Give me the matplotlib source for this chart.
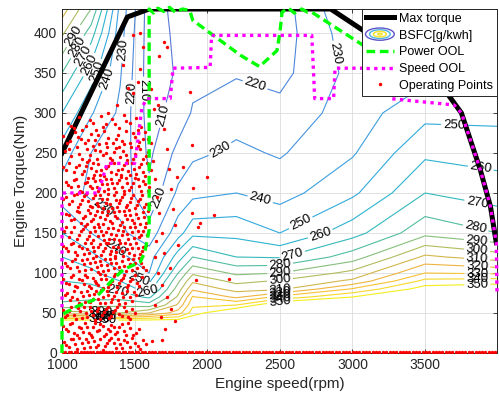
import numpy as np
import matplotlib as mpl
mpl.use('Agg')
import matplotlib.pyplot as plt
from matplotlib.legend_handler import HandlerBase
from matplotlib.patches import Ellipse
from matplotlib.lines import Line2D

plt.rcParams['font.family'] = ['Liberation Sans', 'DejaVu Sans']

# BSFC map [g/kWh], rows = torque, cols = speed
map_speed = [1000, 1200, 1400, 1600, 1800, 1900, 2200, 2500, 3000, 3500, 4000]
map_torque = [0, 40, 50, 60, 70, 80, 90, 100, 120, 150, 200, 250, 300, 350, 400, 430]
bsfc = [
    [400, 400, 400, 400, 400, 400, 400, 400, 400, 400, 400],
    [356, 356, 356, 356, 356, 360, 390, 400, 400, 400, 400],
    [305, 302, 300, 310, 325, 345, 365, 380, 395, 400, 400],
    [282, 287, 288, 285, 312, 338, 340, 362, 375, 390, 392],
    [277, 276, 276, 268, 302, 331, 318, 333, 350, 375, 378],
    [274, 273, 267, 255, 295, 318, 306, 308, 331, 355, 358],
    [270, 268, 260, 248, 288, 308, 297, 301, 312, 343, 345],
    [267, 263, 251, 240, 280, 298, 288, 290, 303, 330, 328],
    [260, 253, 242, 235, 265, 280, 270, 269, 285, 312, 305],
    [250, 240, 232, 224, 246, 257, 257, 250, 266, 287, 280],
    [235, 228, 226, 212, 232, 237, 240, 236, 248, 270, 265],
    [245, 230, 227, 208, 223, 228, 232, 229, 239, 258, 256],
    [260, 241, 228, 206, 214, 221, 226, 223, 235, 247, 247],
    [280, 255, 231, 205, 211, 217, 219, 217, 233, 237, 240],
    [302, 275, 234, 205, 212, 214, 214, 215, 236, 233, 236],
    [315, 290, 237, 205, 213, 214, 214, 215, 240, 232, 235],
]
bsfc_levels = [210, 220, 230, 240, 250, 260, 270, 280, 290, 300, 310, 320, 330, 340, 350]

max_speed = [1000, 1450, 1600, 2850, 3100, 3400, 3650, 3750, 3880, 3950, 3990]
max_torque = [250, 420, 430, 430, 400, 365, 325, 300, 229, 183, 138]

power_speed = [1000, 1000, 1100, 1215, 1330, 1420, 1540, 1570, 1600, 1600, 1630, 1660, 1700, 1740,
               1780, 1830, 1880, 1900, 2230, 2360, 2480, 2500, 2515, 2560, 2600, 2650, 2690,
               2720, 2985, 3200]
power_torque = [0, 48, 58, 66, 88, 104, 114, 126, 154, 430, 425, 431, 427, 432, 426, 430, 428,
                416, 372, 358, 378, 400, 426, 431, 425, 430, 426, 426, 395, 370]

speed_speed = [1000, 1000, 1250, 1310, 1500, 1520, 1550, 1585, 1745, 1765, 2020, 2030, 2720,
               2740, 2870, 2880, 3250, 3260, 3700, 3750, 3880, 3950, 3990, 3995]
speed_torque = [57, 200, 200, 237, 237, 262, 307, 318, 318, 356, 357, 397, 397, 318, 318, 356,
                356, 318, 310, 300, 229, 183, 138, 75]

op_points = [
    (1040, 288), (1085, 281), (1120, 295), (1165, 284), (1190, 291), (1235, 279), (1270, 296),
    (1300, 286), (1345, 292), (1390, 281), (1425, 298), (1470, 287), (1510, 294), (1545, 283),
    (1010, 271), (1055, 265), (1090, 276), (1130, 268), (1160, 262), (1200, 274), (1225, 266),
    (1255, 261), (1290, 277), (1320, 269), (1350, 263), (1385, 273), (1410, 265), (1440, 278),
    (1465, 262), (1500, 270), (1530, 264), (1570, 276), (1595, 268),
    (1020, 252), (1065, 246), (1100, 257), (1140, 243), (1170, 255), (1195, 248), (1215, 259),
    (1240, 242), (1265, 253), (1285, 247), (1310, 258), (1330, 244), (1355, 251), (1375, 256),
    (1400, 245), (1420, 253), (1450, 241), (1475, 258), (1505, 249), (1540, 255), (1560, 243),
    (1590, 251),
    (1005, 232), (1045, 238), (1080, 226), (1115, 235), (1150, 228), (1175, 239), (1200, 231),
    (1220, 223), (1245, 236), (1270, 229), (1290, 221), (1315, 234), (1340, 226), (1360, 238),
    (1385, 229), (1405, 222), (1430, 235), (1455, 227), (1480, 237), (1510, 224), (1530, 232),
    (1555, 226), (1585, 238), (1610, 229),
    (1025, 214), (1060, 207), (1095, 218), (1125, 203), (1155, 212), (1180, 219), (1205, 206),
    (1230, 215), (1250, 202), (1275, 211), (1300, 218), (1320, 205), (1345, 213), (1370, 201),
    (1390, 216), (1415, 208), (1440, 219), (1460, 204), (1490, 212), (1520, 217), (1545, 203),
    (1570, 211), (1600, 207),
    (1010, 193), (1050, 186), (1085, 197), (1110, 182), (1140, 191), (1165, 199), (1190, 184),
    (1215, 194), (1240, 188), (1260, 198), (1285, 181), (1310, 192), (1330, 186), (1355, 197),
    (1380, 183), (1400, 191), (1425, 199), (1450, 185), (1475, 194), (1500, 181), (1525, 190),
    (1550, 197), (1580, 186),
    (1030, 174), (1065, 166), (1100, 178), (1130, 163), (1155, 171), (1180, 179), (1200, 165),
    (1225, 173), (1250, 161), (1275, 176), (1295, 168), (1320, 178), (1345, 162), (1365, 171),
    (1390, 177), (1410, 164), (1435, 172), (1460, 179), (1485, 166), (1510, 174), (1540, 161),
    (1565, 170), (1595, 177),
    (1015, 152), (1050, 145), (1080, 157), (1115, 148), (1145, 155), (1170, 142), (1195, 151),
    (1220, 158), (1245, 146), (1270, 153), (1290, 141), (1315, 156), (1340, 149), (1360, 143),
    (1385, 154), (1410, 147), (1430, 158), (1455, 142), (1480, 151), (1505, 157), (1530, 145),
    (1555, 153), (1585, 148),
    (1005, 134), (1040, 127), (1075, 138), (1105, 122), (1135, 131), (1160, 137), (1185, 125),
    (1210, 133), (1235, 121), (1260, 136), (1280, 128), (1305, 138), (1330, 124), (1350, 132),
    (1375, 126), (1400, 137), (1420, 121), (1445, 130), (1470, 136), (1495, 123), (1520, 131),
    (1550, 127), (1575, 135),
    (1020, 113), (1055, 106), (1090, 117), (1120, 102), (1150, 111), (1175, 118), (1200, 105),
    (1225, 114), (1250, 101), (1270, 110), (1295, 117), (1320, 104), (1340, 112), (1365, 119),
    (1390, 107), (1415, 115), (1440, 102), (1465, 111), (1490, 118), (1515, 106), (1545, 113),
    (1575, 104),
    (1010, 93), (1045, 86), (1075, 97), (1105, 82), (1135, 91), (1160, 98), (1185, 84),
    (1210, 94), (1235, 88), (1260, 99), (1280, 81), (1305, 92), (1330, 86), (1355, 96),
    (1380, 83), (1405, 91), (1430, 98), (1455, 85), (1485, 93), (1515, 88), (1550, 95),
    (1020, 73), (1055, 66), (1085, 77), (1115, 62), (1145, 71), (1170, 78), (1195, 64),
    (1220, 74), (1245, 68), (1270, 79), (1295, 63), (1320, 72), (1345, 67), (1370, 76),
    (1395, 61), (1420, 70), (1450, 77), (1480, 65), (1510, 72),
    (1005, 54), (1035, 47), (1065, 58), (1095, 43), (1125, 52), (1150, 57), (1175, 45),
    (1200, 53), (1225, 41), (1250, 56), (1275, 48), (1300, 55), (1325, 44), (1350, 51),
    (1380, 58), (1410, 46), (1440, 53), (1470, 42), (1500, 50),
    (1010, 34), (1040, 27), (1070, 38), (1100, 22), (1130, 31), (1160, 37), (1185, 25),
    (1210, 33), (1240, 28), (1265, 36), (1290, 21), (1315, 30), (1340, 35), (1365, 24),
    (1395, 32), (1425, 27), (1455, 37), (1490, 23), (1530, 30),
    (1015, 14), (1045, 8), (1075, 17), (1105, 5), (1135, 12), (1165, 18), (1190, 7),
    (1220, 15), (1250, 10), (1280, 4), (1310, 13), (1340, 19), (1370, 6), (1400, 11),
    (1430, 16), (1465, 8), (1500, 13), (1540, 5), (1580, 11), (1620, 15),
    (1060, 284), (1140, 279), (1215, 288), (1285, 283), (1365, 286), (1440, 290), (1520, 279),
    (1035, 262), (1110, 270), (1180, 266), (1245, 272), (1305, 263), (1370, 268), (1430, 261),
    (1490, 275), (1555, 267),
    (1045, 255), (1120, 249), (1185, 241), (1230, 254), (1300, 250), (1345, 241), (1395, 257),
    (1440, 247), (1490, 243), (1525, 259), (1575, 246),
    (1030, 229), (1095, 232), (1135, 224), (1165, 234), (1210, 238), (1235, 227), (1260, 222),
    (1300, 231), (1330, 237), (1370, 224), (1415, 230), (1445, 238), (1470, 222), (1495, 230),
    (1545, 236), (1570, 221),
    (1040, 210), (1080, 216), (1110, 209), (1140, 201), (1170, 214), (1195, 209), (1215, 219),
    (1240, 207), (1265, 216), (1290, 203), (1310, 211), (1335, 217), (1355, 206), (1380, 212),
    (1405, 220), (1430, 203), (1450, 213), (1475, 207), (1505, 219), (1530, 209), (1560, 215),
    (1590, 202),
    (1030, 195), (1070, 190), (1100, 199), (1125, 186), (1150, 196), (1180, 190), (1205, 182),
    (1225, 197), (1250, 184), (1275, 193), (1300, 187), (1320, 199), (1345, 181), (1370, 191),
    (1390, 187), (1415, 195), (1440, 182), (1465, 189), (1490, 198), (1515, 185), (1540, 192),
    (1565, 183),
    (1045, 172), (1080, 168), (1115, 176), (1145, 169), (1170, 161), (1190, 175), (1215, 167),
    (1240, 178), (1265, 170), (1285, 161), (1310, 172), (1330, 165), (1355, 176), (1380, 169),
    (1400, 160), (1425, 178), (1450, 167), (1470, 173), (1495, 162), (1525, 169), (1555, 176),
    (1580, 163),
    (1030, 158), (1065, 151), (1100, 143), (1130, 152), (1160, 159), (1185, 146), (1210, 141),
    (1230, 152), (1255, 158), (1280, 147), (1305, 151), (1325, 142), (1350, 156), (1375, 148),
    (1395, 141), (1420, 152), (1445, 149), (1470, 157), (1495, 144), (1520, 152), (1545, 147),
    (1570, 158),
    (1025, 131), (1060, 136), (1090, 126), (1120, 134), (1150, 124), (1175, 130), (1200, 138),
    (1220, 127), (1245, 133), (1270, 122), (1295, 131), (1320, 137), (1340, 128), (1365, 121),
    (1385, 133), (1410, 128), (1435, 137), (1460, 125), (1485, 131), (1510, 138), (1535, 124),
    (1560, 132),
    (1035, 109), (1070, 115), (1105, 108), (1135, 116), (1160, 104), (1190, 112), (1215, 119),
    (1240, 107), (1260, 115), (1285, 103), (1310, 110), (1330, 118), (1355, 106), (1375, 113),
    (1400, 102), (1430, 109), (1455, 117), (1480, 104), (1505, 112), (1530, 119), (1560, 108),
    (1025, 88), (1060, 95), (1090, 84), (1120, 92), (1150, 86), (1175, 95), (1200, 81),
    (1225, 90), (1250, 85), (1270, 93), (1295, 98), (1320, 82), (1345, 90), (1365, 99),
    (1395, 87), (1420, 94), (1445, 82), (1470, 90), (1500, 97), (1530, 84),
    (1035, 75), (1070, 70), (1100, 68), (1130, 76), (1160, 64), (1185, 72), (1210, 67),
    (1235, 78), (1260, 63), (1285, 70), (1310, 77), (1335, 64), (1360, 71), (1385, 66),
    (1410, 75), (1435, 63), (1465, 70), (1495, 76),
    (1020, 45), (1050, 52), (1080, 48), (1110, 56), (1140, 44), (1165, 50), (1190, 58),
    (1215, 47), (1240, 52), (1265, 43), (1290, 51), (1315, 57), (1340, 46), (1365, 54),
    (1395, 49), (1425, 57), (1455, 45), (1485, 55),
    (1025, 30), (1055, 36), (1085, 25), (1115, 33), (1145, 26), (1175, 32), (1200, 22),
    (1225, 38), (1255, 29), (1280, 34), (1305, 24), (1330, 28), (1355, 33), (1380, 26),
    (1410, 36), (1440, 22), (1470, 31), (1510, 25),
    (1030, 10), (1060, 18), (1090, 11), (1120, 19), (1150, 6), (1180, 14), (1205, 20),
    (1235, 7), (1265, 17), (1295, 9), (1325, 16), (1355, 12), (1385, 18), (1415, 6),
    (1450, 14), (1485, 19), (1520, 9), (1560, 16),
    (1540, 400), (1560, 383), (1490, 398), (1700, 389), (1720, 383), (1665, 371), (1880, 326),
    (1525, 339), (1455, 331), (1490, 325), (1540, 355), (1420, 360), (1380, 310), (1320, 300),
    (1610, 262), (1625, 240), (1640, 218), (1655, 195), (1670, 175), (1690, 150), (1700, 280),
    (1720, 255), (1735, 230), (1750, 205), (1765, 180), (1780, 160), (1800, 135), (1835, 233),
    (1793, 220), (1900, 206), (1895, 260), (1935, 158), (2000, 220), (2045, 172), (1895, 175),
    (1950, 162), (1745, 106), (1925, 91), (1690, 16), (1640, 120), (1660, 100), (1690, 85),
    (1720, 70), (1750, 55), (1780, 40), (1650, 140), (1700, 125), (1640, 60), (1680, 45),
    (2150, 92), (1630, 305), (1615, 330), (1660, 310), (1710, 30),
]

idle_speed = [1003, 1022, 1046, 1061, 1088, 1104, 1131, 1149, 1170, 1196, 1213, 1238, 1259, 1284,
              1301, 1327, 1345, 1372, 1390, 1418, 1433, 1460, 1482, 1507, 1526, 1551, 1573, 1598,
              1622, 1641, 1668, 1690, 1712, 1737, 1755, 1783, 1806, 1829, 1848, 1876, 1897, 1921,
              1944, 1965, 1992, 2014, 2038, 2060, 2083, 2107, 2126, 2153, 2174, 2198, 2221, 2243,
              2268, 2287, 2312, 2336, 2355, 2381, 2403, 2426, 2449, 2471, 2496, 2518, 2542, 2561,
              2587, 2610, 2632, 2657, 2678, 2703, 2724, 2749, 2771, 2794, 2816, 2841, 2862, 2887,
              2908, 2932, 2955, 2977, 3001, 3024, 3046, 3071, 3093, 3115, 3140, 3161, 3186, 3208,
              3230, 3255, 3277, 3299, 3324, 3346, 3368, 3392, 3414, 3437, 3460, 3483, 3505, 3528,
              3551, 3573, 3597, 3619, 3642, 3664, 3688, 3710, 3733, 3756, 3778, 3801, 3823, 3847,
              3869, 3891, 3914, 3937, 3959, 3982]
idle_torque = [1.0] * len(idle_speed)

level_colors = ['#5a78d6', '#4d86dc', '#4693e0', '#3b9fe0', '#31aadc', '#2db3d0', '#34b9bb',
                '#52bd9f', '#86bf7b', '#b2bc5c', '#d3b64a', '#eeb43f', '#f7c233', '#f6d928',
                '#f4ee1c']

# contour label positions (speed, torque) per level
label_pos = {
    210: [(1540, 329), (1745, 295)],
    220: [(1450, 325), (1700, 191), (2340, 341)],
    230: [(1420, 379), (1260, 175), (2100, 251), (2810, 372)],
    240: [(1330, 341), (1350, 126), (2360, 189)],
    250: [(1260, 351), (1520, 89), (2640, 164), (3700, 291)],
    260: [(1170, 362), (1590, 76), (2777, 150), (3900, 251)],
    270: [(1140, 372), (1385, 76), (2590, 120), (3860, 189)],
    280: [(1110, 382), (2500, 112), (3860, 166)],
    290: [(1090, 395), (2500, 102), (3860, 148)],
    300: [(1270, 50), (2500, 92), (3860, 131)],
    310: [(1250, 48), (2500, 84), (3860, 122)],
    320: [(1300, 46), (2500, 78), (3860, 112)],
    330: [(1280, 45), (2500, 74), (3860, 105)],
    340: [(1260, 43), (2500, 70), (3860, 97)],
    350: [(1300, 41), (2500, 66), (3860, 85)],
}

power_dash = (0, (2.6, 1.4))
speed_dots = (0, (1, 1.3))


class HandlerRings(HandlerBase):
    def create_artists(self, legend, orig_handle, xdescent, ydescent, width, height, fontsize, trans):
        cx = width / 2 - xdescent
        cy = height / 2 - ydescent
        rings = []
        for scale, col in zip([1.0, 0.72, 0.45, 0.15], ['#5d55c8', '#4fb3e0', '#f2e22a', '#f2e22a']):
            rings.append(Ellipse((cx, cy), width * scale, height * 1.4 * scale, fill=False,
                                 edgecolor=col, lw=1.0, transform=trans))
        return rings


fig = plt.figure(figsize=(4.99, 3.97), dpi=100)
ax = fig.add_axes([62 / 499, 44 / 397, 435 / 499, 344 / 397])
ax.set_xlim(1000, 3995)
ax.set_ylim(0, 430)

Z = np.array(bsfc)
for lev, col in zip(bsfc_levels, level_colors):
    cs = ax.contour(map_speed, map_torque, Z, levels=[lev], colors=[col], linewidths=0.8, zorder=1)
    ax.clabel(cs, manual=label_pos[lev], fontsize=9.5, fmt='%d', inline=True,
              inline_spacing=2, colors='k')

ax.plot(max_speed, max_torque, color='k', lw=3.6, zorder=3)
op = np.array(op_points)
ax.scatter(op[:, 0], op[:, 1], s=6, color='red', linewidths=0, zorder=4)
ax.scatter(idle_speed, idle_torque, s=6, color='red', linewidths=0, zorder=4)
ax.plot(power_speed, power_torque, color='#00ff00', lw=2.4, ls=power_dash, zorder=5,
        clip_on=False)
ax.plot(speed_speed, speed_torque, color='#ff00ff', lw=2.4, ls=speed_dots, zorder=6,
        clip_on=False)

ax.set_xticks([1000, 1500, 2000, 2500, 3000, 3500])
ax.set_yticks(np.arange(0, 401, 50))
ax.grid(True, color='#dcdcdc', lw=0.6)
ax.set_axisbelow(True)
ax.tick_params(direction='in', top=True, right=True, labelsize=10, colors='#262626',
               length=3, width=0.6)
for sp in ax.spines.values():
    sp.set_color('#262626')
    sp.set_linewidth(0.7)
ax.set_xlabel('Engine speed(rpm)', fontsize=11, color='#262626', labelpad=4)
ax.set_ylabel('Engine Torque(Nm)', fontsize=11, color='#262626', labelpad=4)

h_max = Line2D([], [], color='k', lw=3.6)
h_bsfc = Line2D([], [])
h_pow = Line2D([], [], color='#00ff00', lw=2.4, ls=power_dash)
h_spd = Line2D([], [], color='#ff00ff', lw=2.4, ls=speed_dots)
h_op = Line2D([], [], color='red', marker='.', ms=3, ls='none')
leg = ax.legend([h_max, h_bsfc, h_pow, h_spd, h_op],
                ['Max torque', 'BSFC[g/kwh]', 'Power OOL', 'Speed OOL', 'Operating Points'],
                handler_map={h_bsfc: HandlerRings()}, loc='upper right', borderaxespad=0,
                fontsize=9, fancybox=False, framealpha=1, edgecolor='#262626',
                labelspacing=0.38, handlelength=2.3, handletextpad=0.4, borderpad=0.3)
leg.get_frame().set_linewidth(0.7)
leg.set_zorder(10)

fig.savefig('out.png', dpi=100)
